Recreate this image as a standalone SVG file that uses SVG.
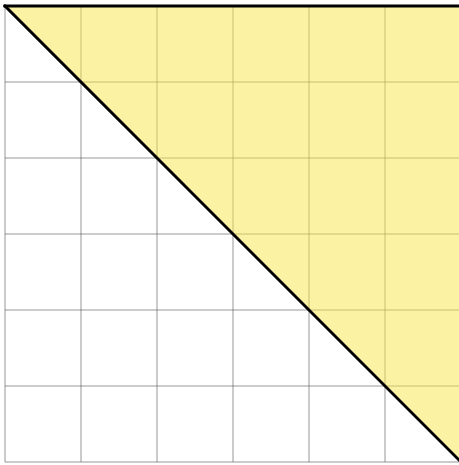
<svg xmlns="http://www.w3.org/2000/svg" width="459" height="465" viewBox="0 0 459 465">
<style>
.grid line{stroke:#555;stroke-width:1;stroke-opacity:0.6}
.edge{stroke:#000;stroke-width:3;fill:none;stroke-linecap:square}
</style>
<rect x="0" y="0" width="459" height="465" fill="#fff"/>
<g id="grid" class="grid">
<line x1="5" y1="6" x2="5" y2="462"/>
<line x1="81" y1="6" x2="81" y2="462"/>
<line x1="157" y1="6" x2="157" y2="462"/>
<line x1="233" y1="6" x2="233" y2="462"/>
<line x1="309" y1="6" x2="309" y2="462"/>
<line x1="385" y1="6" x2="385" y2="462"/>
<line x1="461" y1="6" x2="461" y2="462"/>
<line x1="5" y1="6" x2="461" y2="6"/>
<line x1="5" y1="82" x2="461" y2="82"/>
<line x1="5" y1="158" x2="461" y2="158"/>
<line x1="5" y1="234" x2="461" y2="234"/>
<line x1="5" y1="310" x2="461" y2="310"/>
<line x1="5" y1="386" x2="461" y2="386"/>
<line x1="5" y1="462" x2="461" y2="462"/>
</g>
<g id="region">
<polygon points="5,6 461,6 461,462" fill="#f8e64a" fill-opacity="0.5"/>
</g>
<g id="edges">
<line class="edge" x1="5" y1="6" x2="461" y2="462"/>
<line class="edge" x1="5" y1="6" x2="461" y2="6"/>
</g>
</svg>
